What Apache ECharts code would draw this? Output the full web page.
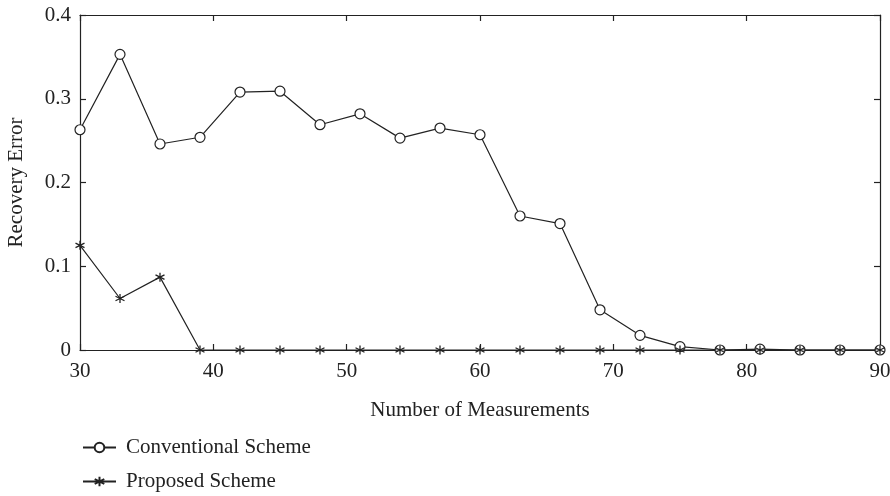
<!DOCTYPE html>
<html><head><meta charset="utf-8">
<script src="https://cdn.jsdelivr.net/npm/echarts@6/dist/echarts.min.js"></script>
<style>html,body{margin:0;padding:0;background:#fff}#c{width:890px;height:496px}</style>
</head><body><div id="c"></div>
<script>
const xValues = [30,33,36,39,42,45,48,51,54,57,60,63,66,69,72,75,78,81,84,87,90];
const conventional = [0.263,0.353,0.246,0.254,0.308,0.309,0.269,0.282,0.253,0.265,0.257,0.160,0.151,0.048,0.0175,0.004,0,0.001,0,0,0];
const proposed = [0.125,0.0615,0.087,0,0,0,0,0,0,0,0,0,0,0,0,0,0,0,0,0,0];
const seriesNames = ['Conventional Scheme','Proposed Scheme'];
const xTicks = [30,40,50,60,70,80,90];
const yTicks = [0,0.1,0.2,0.3,0.4];

const font = '"Liberation Serif", "DejaVu Serif", serif';
const ink = '#222';
const fs = 21;
const asterisk = 'path://M0,-1L0,1M-0.866,-0.5L0.866,0.5M-0.866,0.5L0.866,-0.5';

const chart = echarts.init(document.getElementById('c'));
const axisCommon = () => ({
  axisLine:{show:true,onZero:false,lineStyle:{color:ink,width:1.2}},
  axisTick:{show:true,inside:true,length:6,lineStyle:{color:ink,width:1.2}},
  splitLine:{show:false}
});
const legendBase = (name, top) => ({
  orient:'vertical',left:82,top:top,padding:0,itemWidth:33,itemHeight:12,
  textStyle:{fontFamily:font,fontSize:fs,color:ink,padding:[0,0,0,5]},
  data:[name]
});
chart.setOption({
  animation:false,
  backgroundColor:'#fff',
  textStyle:{fontFamily:font},
  grid:{left:80,right:10,top:15,bottom:146,containLabel:false,outerBoundsMode:'none'},
  legend:[legendBase(seriesNames[0],437), legendBase(seriesNames[1],471)],
  xAxis:[
    Object.assign({type:'value',min:30,max:90,interval:10,position:'bottom',
      name:'Number of Measurements',nameLocation:'middle',nameGap:50,
      nameTextStyle:{fontFamily:font,fontSize:fs,color:ink},
      axisLabel:{fontFamily:font,fontSize:fs,color:ink,margin:11,
        formatter:v=>xTicks.includes(v)?String(v):''}},axisCommon()),
    Object.assign({type:'value',min:30,max:90,interval:10,position:'top',axisLabel:{show:false}},axisCommon())
  ],
  yAxis:[
    Object.assign({type:'value',min:0,max:0.4,interval:0.1,position:'left',
      name:'Recovery Error',nameLocation:'middle',nameGap:53,
      nameTextStyle:{fontFamily:font,fontSize:fs,color:ink},
      axisLabel:{fontFamily:font,fontSize:fs,color:ink,margin:9,
        formatter:v=>{const t=yTicks.find(y=>Math.abs(y-v)<1e-9);return t===undefined?'':(t===0?'0':t.toFixed(1));}}},axisCommon()),
    Object.assign({type:'value',min:0,max:0.4,interval:0.1,position:'right',axisLabel:{show:false}},axisCommon())
  ],
  series:[
    {name:seriesNames[0],type:'line',xAxisIndex:0,yAxisIndex:0,
     data:xValues.map((x,i)=>[x,conventional[i]]),
     symbol:'circle',symbolSize:10,showAllSymbol:true,
     lineStyle:{color:ink,width:1.2},
     itemStyle:{color:'#fff',borderColor:ink,borderWidth:1.2},z:3},
    {name:seriesNames[1],type:'line',xAxisIndex:0,yAxisIndex:0,
     data:xValues.map((x,i)=>[x,proposed[i]]),
     symbol:asterisk,symbolSize:9,showAllSymbol:true,
     lineStyle:{color:ink,width:1.2},
     itemStyle:{color:ink,borderColor:ink,borderWidth:1.3},z:4}
  ]
});
</script></body></html>
